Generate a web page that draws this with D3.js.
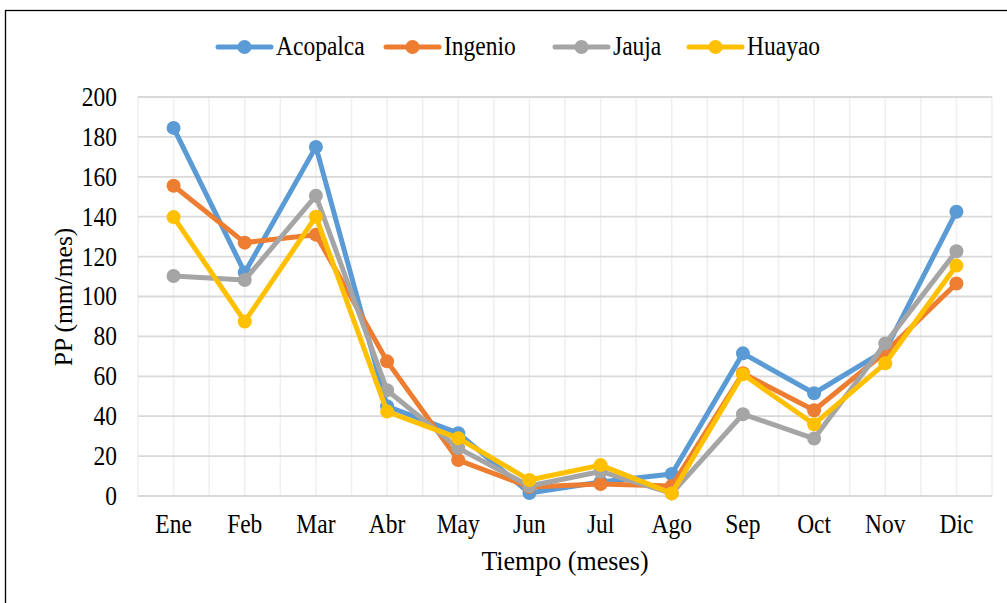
<!DOCTYPE html>
<html><head><meta charset="utf-8">
<script src="https://cdn.jsdelivr.net/npm/d3@7"></script>
<style>body{margin:0;background:#fff}svg{display:block}svg text{font-family:'Liberation Serif','Times New Roman',Times,serif;fill:#000}</style>
</head><body><svg id="c" width="1007" height="603"></svg>
<script>
const months = ["Ene","Feb","Mar","Abr","May","Jun","Jul","Ago","Sep","Oct","Nov","Dic"];
const seriesNames = ["Acopalca","Ingenio","Jauja","Huayao"];
const seriesColors = ["#5b9bd5","#ed7d31","#a5a5a5","#ffc000"];
const acopalca = [184.5,112,175,45,31.5,1.5,7,11,71.5,51.5,73,142.5];
const ingenio  = [155.5,127,131,67.5,18,4.5,6,5,61.5,43,72,106.5];
const jauja    = [110.3,108.3,150.5,53,24,5,12.3,1.3,41,28.8,76.5,122.7];
const huayao   = [139.8,87.5,140,42.3,29,8,15.5,1.3,61,36,66.5,115.5];
const yTicks = [0,20,40,60,80,100,120,140,160,180,200];
const allSeries = [acopalca, ingenio, jauja, huayao];

const svg = d3.select("#c");
const L = 138, R = 992, T = 97, B = 496;
const SY = 1.12;
const x = d3.scaleBand().domain(months).range([L, R]);
const y = d3.scaleLinear().domain([0, 200]).range([B, T]);

svg.append("rect").attr("x",5.5).attr("y",10.5).attr("width",1010).attr("height",600)
  .attr("fill","none").attr("stroke","#000").attr("stroke-width",1.3);

const vg = [];
months.forEach(m => { vg.push(x(m)); vg.push(x(m) + x.bandwidth()/2); });
vg.push(R);
svg.append("g").selectAll("line").data(vg).join("line")
  .attr("x1",d=>d).attr("x2",d=>d).attr("y1",T).attr("y2",B)
  .attr("stroke","#efefef").attr("stroke-width",1.5);

svg.append("g").selectAll("line").data(yTicks).join("line")
  .attr("x1",L).attr("x2",R).attr("y1",d=>y(d)).attr("y2",d=>y(d))
  .attr("stroke","#d9d9d9").attr("stroke-width",1.8);

// y axis labels
const ya = svg.append("g").attr("transform",`translate(${L-21},0)`)
  .call(d3.axisLeft(y).tickValues(yTicks).tickSize(0).tickPadding(0));
ya.select(".domain").remove();
ya.attr("font-family",null).attr("font-size",null);
ya.selectAll("text").attr("font-size",23.5).attr("dy",null).attr("y",8)
  .attr("transform",`scale(1,${SY})`);
ya.selectAll(".tick").each(function(){
  const t = d3.select(this), v = t.datum();
  t.attr("transform",`translate(0,${y(v)})`);
});

// x axis labels
const xa = svg.append("g").attr("transform",`translate(0,${B+37})`)
  .call(d3.axisBottom(x).tickSize(0).tickPadding(0));
xa.select(".domain").remove();
xa.attr("font-family",null).attr("font-size",null);
xa.selectAll("text").attr("font-size",23.5).attr("dy",null).attr("y",0)
  .attr("transform",`scale(1,${SY})`);

// axis titles
svg.append("text").attr("transform",`translate(565,570) scale(1,1.05)`).attr("text-anchor","middle").attr("font-size",26).text("Tiempo (meses)");
svg.append("text").attr("transform","translate(72,297) rotate(-90)").attr("text-anchor","middle").attr("font-size",25.5).text("PP (mm/mes)");

const line = d3.line().x((d,i)=>x(months[i])+x.bandwidth()/2).y(d=>y(d));
allSeries.forEach((s,k)=>{
  const g = svg.append("g");
  g.append("path").datum(s).attr("d",line).attr("fill","none")
    .attr("stroke",seriesColors[k]).attr("stroke-width",5).attr("stroke-linejoin","round").attr("stroke-linecap","round");
  g.selectAll("circle").data(s).join("circle")
    .attr("cx",(d,i)=>x(months[i])+x.bandwidth()/2).attr("cy",d=>y(d)).attr("r",7)
    .attr("fill",seriesColors[k]);
});

const legX = [218,386,555,689];
const lg = svg.append("g");
seriesNames.forEach((n,k)=>{
  const lx = legX[k], ly = 47;
  lg.append("line").attr("x1",lx).attr("x2",lx+53).attr("y1",ly).attr("y2",ly)
    .attr("stroke",seriesColors[k]).attr("stroke-width",5).attr("stroke-linecap","round");
  lg.append("circle").attr("cx",lx+26.5).attr("cy",ly).attr("r",7).attr("fill",seriesColors[k]);
  lg.append("text").attr("transform",`translate(${lx+58},${ly+8}) scale(1,${SY})`).attr("font-size",23.5).text(n);
});
</script></body></html>
